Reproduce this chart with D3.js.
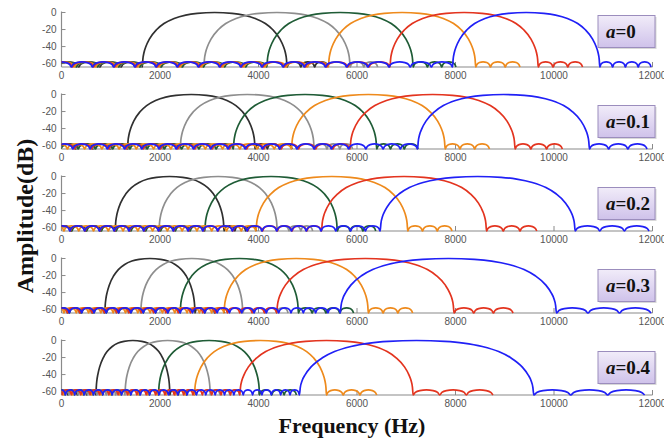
<!DOCTYPE html>
<html>
<head>
<meta charset="utf-8">
<script src="https://cdn.jsdelivr.net/npm/d3@7"></script>
<style>
body { margin: 0; background: #fff; }
svg { display: block; }
</style>
</head>
<body>
<svg id="chart" width="664" height="443"></svg>
<script>
// warping factor shown in each panel
var warpValues = ["0", "0.1", "0.2", "0.3", "0.4"];
var xTicks = [0, 2000, 4000, 6000, 8000, 10000, 12000];
var yTicks = [0, -20, -40, -60];

// main lobe edges (Hz) of the 6 filters, one row per panel
var lobeStart = [
    [1640, 2890, 4170, 5420, 6670, 7940],
    [1340, 2410, 3490, 4670, 5860, 7230],
    [1090, 1980, 2910, 3950, 5280, 6470],
    [880, 1610, 2410, 3300, 4370, 5660],
    [700, 1290, 1970, 2700, 3620, 4830]
];
var lobeEnd = [
    [4580, 5860, 7140, 8410, 9680, 10930],
    [3930, 5130, 6400, 7790, 9210, 10720],
    [3300, 4380, 5600, 7030, 8630, 10430],
    [2710, 3680, 4810, 6230, 7970, 10050],
    [2200, 3020, 4020, 5380, 7140, 9590]
];
// where the side lobes right of the main lobe stop, and their width (Hz)
var tailEnd = [
    [5300, 6400, 7900, 9250, 10500, 12000],
    [4600, 5900, 7250, 8550, 10050, 12000],
    [3900, 5200, 6470, 7990, 9750, 12000],
    [3300, 4500, 5800, 7260, 9240, 12000],
    [2700, 3600, 4800, 6400, 8660, 12000]
];
var tailRipple = [
    [280, 280, 290, 300, 300, 260],
    [250, 260, 280, 300, 320, 390],
    [220, 240, 260, 300, 340, 500],
    [200, 230, 280, 300, 400, 640],
    [170, 200, 250, 340, 540, 750]
];
// width of the side lobes left of the main lobes (Hz)
var headRipple = [430, 350, 300, 250, 190];

// main lobe shape: [fraction of lobe width, dB]
var archShape = [[0, -64], [0.004, -55], [0.012, -47], [0.025, -40], [0.05, -31], [0.1, -20],
    [0.15, -13], [0.22, -7], [0.3, -3], [0.38, -1], [0.5, 0], [0.62, -1], [0.7, -3], [0.78, -7],
    [0.85, -13], [0.9, -20], [0.95, -31], [0.975, -40], [0.988, -47], [0.996, -55], [1, -64]];
// one side lobe bump
var rippleShape = [[0, -64], [0.08, -61], [0.25, -58.8], [0.5, -58], [0.75, -58.8], [0.92, -61], [1, -64]];

var colors = ["#303030", "#8e8e8e", "#1f5c36", "#ee8a1c", "#e3341f", "#2020f6"];

var svg = d3.select("#chart");
var panelTop = 12.5, panelStep = 82;

var x = d3.scaleLinear().domain([0, 12000]).range([61.5, 652.5]);
var y = d3.scaleLinear().domain([-64, 0]).range([54.5, 0]);

var line = d3.line()
    .x(function (d) { return x(d[0]); })
    .y(function (d) { return y(d[1]); })
    .curve(d3.curveMonotoneX);

var defs = svg.append("defs");
var grad = defs.append("linearGradient").attr("id", "boxFill")
    .attr("x1", 0).attr("y1", 0).attr("x2", 0).attr("y2", 1);
grad.append("stop").attr("offset", "0%").attr("stop-color", "#f1ecf9");
grad.append("stop").attr("offset", "100%").attr("stop-color", "#cfc2ea");

defs.append("clipPath").attr("id", "plotClip")
    .append("rect")
    .attr("x", x(0)).attr("y", -4)
    .attr("width", x(12000) - x(0)).attr("height", 60);

function pushShape(pts, shape, start, width) {
    shape.forEach(function (p) {
        var px = start + p[0] * width;
        var last = pts[pts.length - 1];
        if (last && Math.abs(last[0] - px) < 1e-6) return;
        pts.push([px, p[1]]);
    });
}

// build the response of one filter from its lobe edges
function filterPoints(lo, hi, end, rTail, rHead) {
    var pts = [];
    var starts = [];
    for (var s = lo - rHead; s > -rHead; s -= rHead) starts.push(s);
    starts.reverse().forEach(function (s) { pushShape(pts, rippleShape, s, rHead); });
    pushShape(pts, archShape, lo, hi - lo);
    for (var t = hi; t + rTail * 0.5 <= end; t += rTail) pushShape(pts, rippleShape, t, rTail);
    return pts;
}

warpValues.forEach(function (a, i) {
    var g = svg.append("g").attr("transform", "translate(0," + (panelTop + i * panelStep) + ")");

    // x axis
    g.append("line")
        .attr("x1", x(0)).attr("x2", x(12000))
        .attr("y1", y(-64)).attr("y2", y(-64))
        .attr("stroke", "#8a8a8a").attr("stroke-width", 1.2);
    g.selectAll(".xtick").data(xTicks).enter().append("line")
        .attr("x1", function (d) { return x(d); }).attr("x2", function (d) { return x(d); })
        .attr("y1", y(-64)).attr("y2", y(-64) - 5)
        .attr("stroke", "#8a8a8a").attr("stroke-width", 1);
    g.selectAll(".xlab").data(xTicks).enter().append("text")
        .attr("x", function (d) { return x(d); })
        .attr("y", y(-64) + 12)
        .attr("text-anchor", "middle")
        .attr("font-family", "Liberation Sans, Arial, sans-serif")
        .attr("font-size", 10).attr("fill", "#555")
        .text(function (d) { return d; });

    // y axis
    g.append("line")
        .attr("x1", x(0)).attr("x2", x(0))
        .attr("y1", y(0) - 1).attr("y2", y(-64))
        .attr("stroke", "#8a8a8a").attr("stroke-width", 1.2);
    g.selectAll(".ytick").data(yTicks).enter().append("line")
        .attr("x1", x(0)).attr("x2", x(0) + 4)
        .attr("y1", function (d) { return y(d); }).attr("y2", function (d) { return y(d); })
        .attr("stroke", "#8a8a8a").attr("stroke-width", 1);
    g.selectAll(".ylab").data(yTicks).enter().append("text")
        .attr("x", x(0) - 5)
        .attr("y", function (d) { return y(d); })
        .attr("dy", "0.35em")
        .attr("text-anchor", "end")
        .attr("font-family", "Liberation Sans, Arial, sans-serif")
        .attr("font-size", 10).attr("fill", "#555")
        .text(function (d) { return d; });

    // filter responses
    var plot = g.append("g").attr("clip-path", "url(#plotClip)");
    colors.forEach(function (c, k) {
        var pts = filterPoints(lobeStart[i][k], lobeEnd[i][k], tailEnd[i][k], tailRipple[i][k], headRipple[i]);
        plot.append("path")
            .attr("d", line(pts))
            .attr("fill", "none")
            .attr("stroke", c)
            .attr("stroke-width", 1.7);
    });

    // label box
    var by = i === 0 ? 3 : 11;
    var box = g.append("g").attr("transform", "translate(598," + by + ")");
    box.append("rect").attr("x", 1.5).attr("y", 1.5).attr("width", 57).attr("height", 32)
        .attr("fill", "#d8d8d8");
    box.append("rect").attr("width", 57).attr("height", 32)
        .attr("fill", "url(#boxFill)").attr("stroke", "#9b8dbd").attr("stroke-width", 1);
    var label = box.append("text").attr("x", 8).attr("y", 22)
        .attr("font-family", "Liberation Serif, Times New Roman, serif")
        .attr("font-size", 19).attr("font-weight", "bold").attr("fill", "#111");
    label.append("tspan").attr("font-style", "italic").text("a");
    label.append("tspan").text("=" + a);
});

svg.append("text")
    .attr("transform", "translate(33,216) rotate(-90)")
    .attr("text-anchor", "middle")
    .attr("font-family", "Liberation Serif, Times New Roman, serif")
    .attr("font-size", 24).attr("font-weight", "bold").attr("fill", "#111")
    .text("Amplitude(dB)");

svg.append("text")
    .attr("x", 352).attr("y", 433)
    .attr("text-anchor", "middle")
    .attr("font-family", "Liberation Serif, Times New Roman, serif")
    .attr("font-size", 22).attr("font-weight", "bold").attr("fill", "#111")
    .text("Frequency (Hz)");
</script>
</body>
</html>
